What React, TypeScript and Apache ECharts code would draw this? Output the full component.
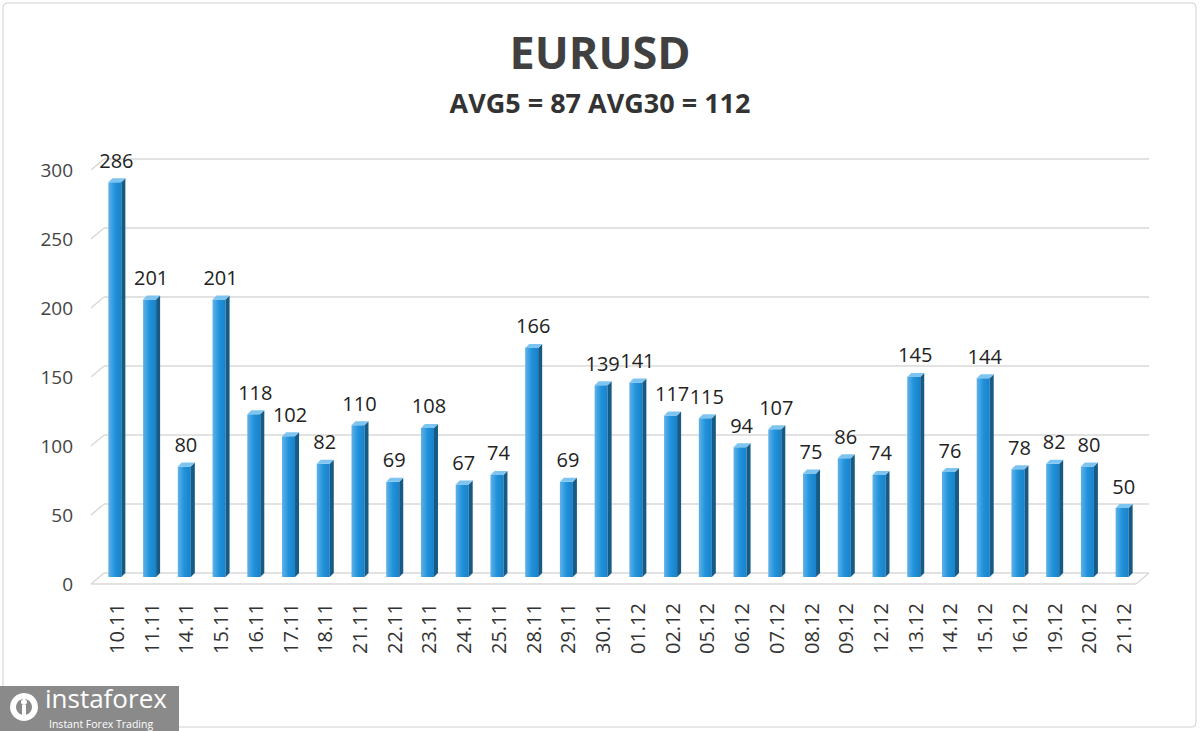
import React, { useEffect, useRef } from "react";
import * as echarts from "echarts";

const categories = ["10.11","11.11","14.11","15.11","16.11","17.11","18.11","21.11","22.11","23.11","24.11","25.11","28.11","29.11","30.11","01.12","02.12","05.12","06.12","07.12","08.12","09.12","12.12","13.12","14.12","15.12","16.12","19.12","20.12","21.12"];
const values = [286,201,80,201,118,102,82,110,69,108,67,74,166,69,139,141,117,115,94,107,75,86,74,145,76,144,78,82,80,50];
const yTicks = [0,50,100,150,200,250,300];
const titleText = "EURUSD";
const subtitleText = "AVG5 = 87 AVG30 = 112";

const FONT = "'Open Sans', 'Noto Sans', sans-serif";

export default function App() {
  const ref = useRef<HTMLDivElement>(null);
  useEffect(() => {
    const chart = echarts.init(ref.current!, null, { renderer: "svg" });
    const option: any = {
      animation: false,
      backgroundColor: "#ffffff",
      title: [
        { text: titleText, left: "center", top: 24, textStyle: { fontFamily: FONT, fontSize: 45, fontWeight: "bold", color: "#404040" } },
        { text: subtitleText, left: "center", top: 84, textStyle: { fontFamily: FONT, fontSize: 27, fontWeight: "bold", color: "#333333" } },
      ],
      grid: { left: 99, right: 59, top: 163, bottom: 154 },
      xAxis: {
        type: "category",
        data: categories,
        axisLine: { show: false },
        axisTick: { show: false },
        axisLabel: { rotate: 90, margin: 26, fontFamily: FONT, fontSize: 20, color: "#333333" },
      },
      yAxis: {
        type: "value",
        min: 0,
        max: 300,
        interval: 50,
        axisLine: { show: false },
        axisTick: { show: false },
        axisLabel: { show: false },
        splitLine: { show: false },
      },
      graphic: [
        { type: "rect", shape: { x: 3, y: 3, width: 1193, height: 724, r: 4 }, style: { fill: "none", stroke: "#d0d0d0", lineWidth: 1 }, silent: true },
        { type: "rect", shape: { x: 0, y: 686, width: 179, height: 45 }, style: { fill: "#8a8a8a" }, z: 10 },
        { type: "ring", shape: { cx: 24, cy: 707, r: 14, r0: 8 }, style: { fill: "#ffffff" }, z: 11 },
        { type: "circle", shape: { cx: 24, cy: 702, r: 3 }, style: { fill: "#ffffff" }, z: 11 },
        { type: "rect", shape: { x: 22, y: 705, width: 4, height: 12 }, style: { fill: "#ffffff" }, z: 11 },
        { type: "text", x: 45, y: 685, style: { text: "instaforex", fontFamily: FONT, fontSize: 26, lineHeight: 26, fill: "#ffffff" }, z: 11 },
        { type: "text", x: 49, y: 719, style: { text: "Instant Forex Trading", fontFamily: FONT, fontSize: 10.5, lineHeight: 10, fill: "#ffffff" }, z: 11 },
      ],
      series: [
        {
          type: "custom",
          data: yTicks.map((t) => [t]),
          silent: true,
          z: 1,
          renderItem: (params: any, api: any) => {
            const cs = params.coordSys;
            const v = api.value(0);
            const y = api.coord([0, v])[1];
            const back = y - 4;
            const front = y + 7;
            const children: any[] = [
              { type: "line", shape: { x1: cs.x + 5, y1: back, x2: cs.x + cs.width + 8, y2: back }, style: { stroke: "#d9d9d9", lineWidth: 1.5 } },
              { type: "line", shape: { x1: cs.x - 8, y1: front, x2: cs.x + 5, y2: back }, style: { stroke: "#d9d9d9", lineWidth: 1.5 } },
              {
                type: "text",
                x: cs.x - 26,
                y: front,
                style: { text: String(v), fontFamily: FONT, fontSize: 19, fill: "#444444", align: "right", verticalAlign: "middle" },
              },
            ];
            if (v === 0) {
              children.push(
                { type: "line", shape: { x1: cs.x - 8, y1: front, x2: cs.x + cs.width - 5, y2: front }, style: { stroke: "#d9d9d9", lineWidth: 1.5 } },
                { type: "line", shape: { x1: cs.x + cs.width - 5, y1: front, x2: cs.x + cs.width + 8, y2: back }, style: { stroke: "#d9d9d9", lineWidth: 1.5 } }
              );
            }
            return { type: "group", children };
          },
        },
        {
          type: "custom",
          data: values.map((v, i) => [i, v]),
          z: 5,
          renderItem: (params: any, api: any) => {
            const top = api.coord([api.value(0), api.value(1)]);
            const base = api.coord([api.value(0), 0]);
            const w = 13;
            const d = 4;
            const x0 = top[0] - 8;
            const x1 = x0 + w;
            const yT = top[1];
            const yB = base[1];
            return {
              type: "group",
              children: [
                {
                  type: "rect",
                  shape: { x: x0, y: yT, width: w, height: yB - yT },
                  style: {
                    fill: new echarts.graphic.LinearGradient(0, 0, 1, 0, [
                      { offset: 0, color: "#5fb2ea" },
                      { offset: 0.5, color: "#2192da" },
                      { offset: 1, color: "#1882ca" },
                    ]),
                  },
                },
                {
                  type: "polygon",
                  shape: { points: [[x1, yT], [x1 + d, yT - d], [x1 + d, yB - d], [x1, yB]] },
                  style: { fill: "#165a86" },
                },
                {
                  type: "polygon",
                  shape: { points: [[x0, yT], [x0 + d, yT - d], [x1 + d, yT - d], [x1, yT]] },
                  style: { fill: "#7ec4f0" },
                },
                {
                  type: "text",
                  x: top[0],
                  y: yT - 22,
                  style: {
                    text: String(api.value(1)),
                    fontFamily: FONT,
                    fontSize: 20,
                    fill: "#222222",
                    align: "center",
                    verticalAlign: "middle",
                  },
                },
              ],
            };
          },
        },
      ],
    };
    chart.setOption(option);
    return () => chart.dispose();
  }, []);
  return <div ref={ref} style={{ position: "absolute", left: 0, top: 0, width: 1200, height: 731 }} />;
}
